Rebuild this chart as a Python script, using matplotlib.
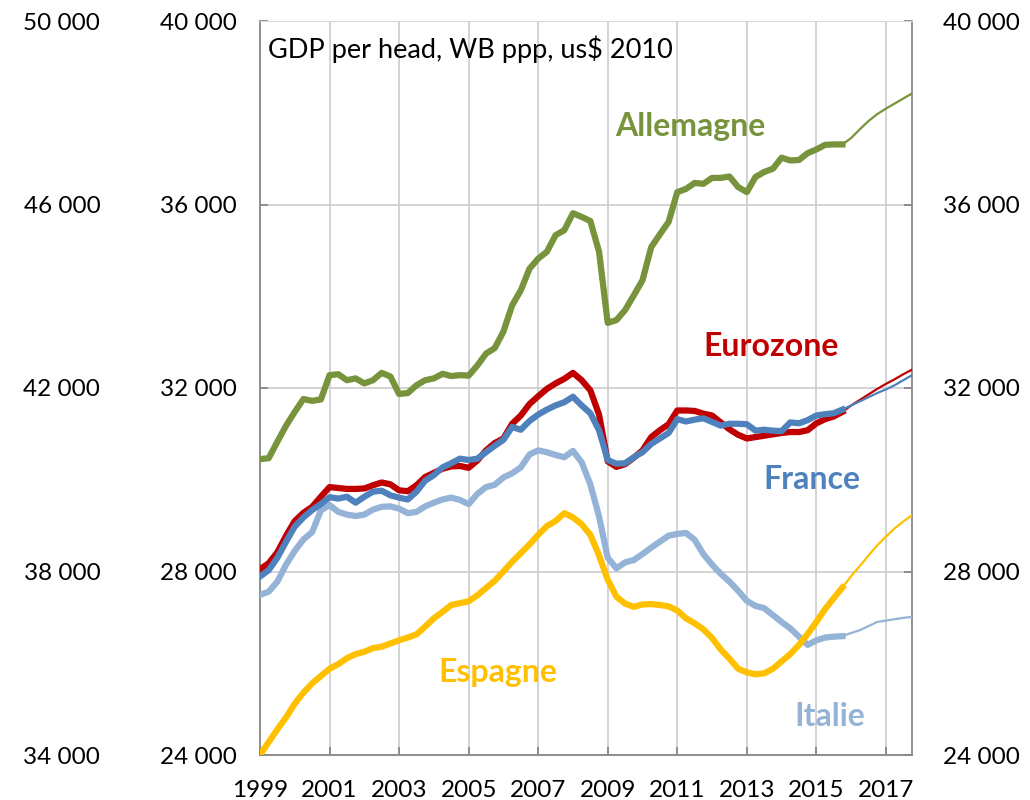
import numpy as np
import matplotlib
matplotlib.use("Agg")
import matplotlib.pyplot as plt

plt.rcParams["font.family"] = ["Lato", "DejaVu Sans"]

# quarterly data, 1999Q1 .. 2017Q4 (from 2015Q4 on = forecast, thin line)
quarters = 1999 + np.arange(76) / 4
split = 67

allemagne = [30450, 30470, 30830, 31180, 31480, 31760, 31720, 31750,
             32280, 32300, 32170, 32210, 32100, 32170, 32330, 32250,
             31870, 31890, 32060, 32170, 32210, 32310, 32260, 32280,
             32270, 32490, 32750, 32870, 33230, 33800, 34130, 34600,
             34820, 34970, 35330, 35440, 35810, 35730, 35640, 34970,
             33420, 33480, 33700, 34020, 34350, 35070, 35350, 35620,
             36270, 36340, 36470, 36450, 36580, 36580, 36610, 36380,
             36270, 36600, 36710, 36780, 37020, 36960, 36970, 37120,
             37200, 37300, 37310, 37310, 37450, 37640, 37820, 37970,
             38090, 38200, 38310, 38420]

eurozone = [28050, 28180, 28420, 28780, 29100, 29280, 29410, 29630,
            29840, 29820, 29800, 29800, 29810, 29880, 29940, 29900,
            29770, 29750, 29880, 30060, 30150, 30240, 30290, 30300,
            30260, 30420, 30640, 30800, 30900, 31220, 31400, 31650,
            31820, 31980, 32100, 32200, 32330, 32170, 31950, 31420,
            30400, 30280, 30340, 30480, 30640, 30930, 31080, 31210,
            31510, 31510, 31500, 31440, 31400, 31250, 31100, 30980,
            30900, 30930, 30960, 30990, 31020, 31040, 31040, 31080,
            31230, 31320, 31380, 31480, 31620, 31740, 31860, 31980,
            32090, 32190, 32300, 32400]

france = [27890, 28030, 28300, 28650, 28980, 29180, 29340, 29470,
          29620, 29590, 29630, 29500, 29630, 29740, 29760, 29660,
          29610, 29570, 29740, 29980, 30100, 30270, 30360, 30460,
          30430, 30460, 30600, 30740, 30870, 31150, 31090, 31280,
          31420, 31530, 31620, 31690, 31810, 31620, 31450, 31080,
          30430, 30350, 30360, 30490, 30600, 30780, 30900, 31020,
          31320, 31270, 31310, 31340, 31260, 31180, 31220, 31220,
          31210, 31070, 31090, 31070, 31060, 31250, 31230, 31300,
          31400, 31430, 31450, 31530, 31620, 31710, 31800, 31890,
          31970, 32060, 32170, 32280]

italie = [27490, 27560, 27780, 28150, 28450, 28700, 28860, 29330,
          29450, 29300, 29240, 29210, 29240, 29350, 29410, 29420,
          29370, 29270, 29300, 29420, 29500, 29570, 29610, 29560,
          29470, 29690, 29840, 29890, 30050, 30140, 30270, 30550,
          30640, 30600, 30540, 30490, 30630, 30380, 29900, 29200,
          28300, 28070, 28200, 28250, 28380, 28520, 28650, 28780,
          28820, 28840, 28690, 28380, 28150, 27950, 27780, 27580,
          27360, 27250, 27200, 27050, 26900, 26760, 26580, 26400,
          26500, 26560, 26580, 26590, 26660, 26720, 26810, 26900,
          26930, 26960, 26990, 27010]

espagne = [24000, 24280, 24560, 24820, 25120, 25360, 25560, 25720,
           25880, 25980, 26110, 26200, 26250, 26330, 26360, 26430,
           26500, 26560, 26630, 26800, 26980, 27120, 27270, 27310,
           27350, 27480, 27640, 27800, 28000, 28210, 28400, 28590,
           28800, 28990, 29100, 29270, 29180, 29030, 28800, 28350,
           27820, 27450, 27300, 27230, 27280, 27290, 27270, 27240,
           27150, 26980, 26870, 26740, 26550, 26300, 26100, 25880,
           25800, 25760, 25780, 25880, 26040, 26200, 26400, 26640,
           26900, 27180, 27420, 27650, 27900, 28120, 28350, 28570,
           28760, 28940, 29090, 29230]

series = [
    ("Italie", italie, "#95B3D7"),
    ("Espagne", espagne, "#FFC000"),
    ("Eurozone", eurozone, "#C00000"),
    ("France", france, "#4F81BD"),
    ("Allemagne", allemagne, "#77933C"),
]

fig = plt.figure(figsize=(10.3, 8), dpi=100)
ax = fig.add_axes([260 / 1030, 45 / 800, 652 / 1030, 734 / 800])

for name, vals, col in series:
    v = np.array(vals)
    ax.plot(quarters[:split + 1], v[:split + 1], color=col, lw=4.5,
            solid_joinstyle="round", zorder=3)
    ax.plot(quarters[split:], v[split:], color=col, lw=1.6, zorder=3)

ax.set_xlim(1999, 2017.75)
ax.set_ylim(24000, 40000)

years = list(range(1999, 2018, 2))
ax.set_xticks(years)
ax.set_xticklabels([str(y) for y in years])
yt = list(range(24000, 40001, 4000))
ax.set_yticks(yt)
fmt = lambda v: f"{v:,}".replace(",", " ")
ax.set_yticklabels([fmt(v) for v in yt])

ax.grid(True, color="#D0D0D0", lw=1.3)
ax.set_axisbelow(True)
for s in ["left", "right", "bottom"]:
    ax.spines[s].set_color("#888888")
    ax.spines[s].set_linewidth(1.3)
ax.spines["top"].set_color("#D9D9D9")

ax.tick_params(axis="both", direction="in", length=6, width=1.3,
               color="#888888", labelsize=17.5)
ax.tick_params(axis="y", pad=17, right=True)
ax.tick_params(axis="x", pad=18)

# right axis (same scale)
axr = ax.secondary_yaxis("right")
axr.set_yticks(yt)
axr.set_yticklabels([fmt(v) for v in yt])
axr.tick_params(direction="in", length=0, labelsize=17.5, pad=22)
axr.spines["right"].set_visible(False)

# outer left axis (Allemagne scale)
axo = ax.secondary_yaxis(-0.245, functions=(lambda y: y + 10000, lambda y: y - 10000))
yo = list(range(34000, 50001, 4000))
axo.set_yticks(yo)
axo.set_yticklabels([fmt(v) for v in yo])
axo.tick_params(length=0, labelsize=17.5, pad=0)
axo.spines["left"].set_visible(False)

ax.text(0.012, 0.962, "GDP per head, WB ppp, us$ 2010", transform=ax.transAxes,
        fontsize=19.5, va="center", ha="left")

labels = [("Allemagne", 2011.37, 37700, "#77933C"),
          ("Eurozone", 2013.70, 32910, "#C00000"),
          ("France", 2014.88, 30010, "#4F81BD"),
          ("Espagne", 2005.85, 25790, "#FFC000"),
          ("Italie", 2015.39, 24850, "#95B3D7")]
for txt, x, y, col in labels:
    ax.text(x, y, txt, color=col, fontsize=23, fontweight="bold",
            ha="center", va="center")

fig.savefig("out.png", dpi=100)
